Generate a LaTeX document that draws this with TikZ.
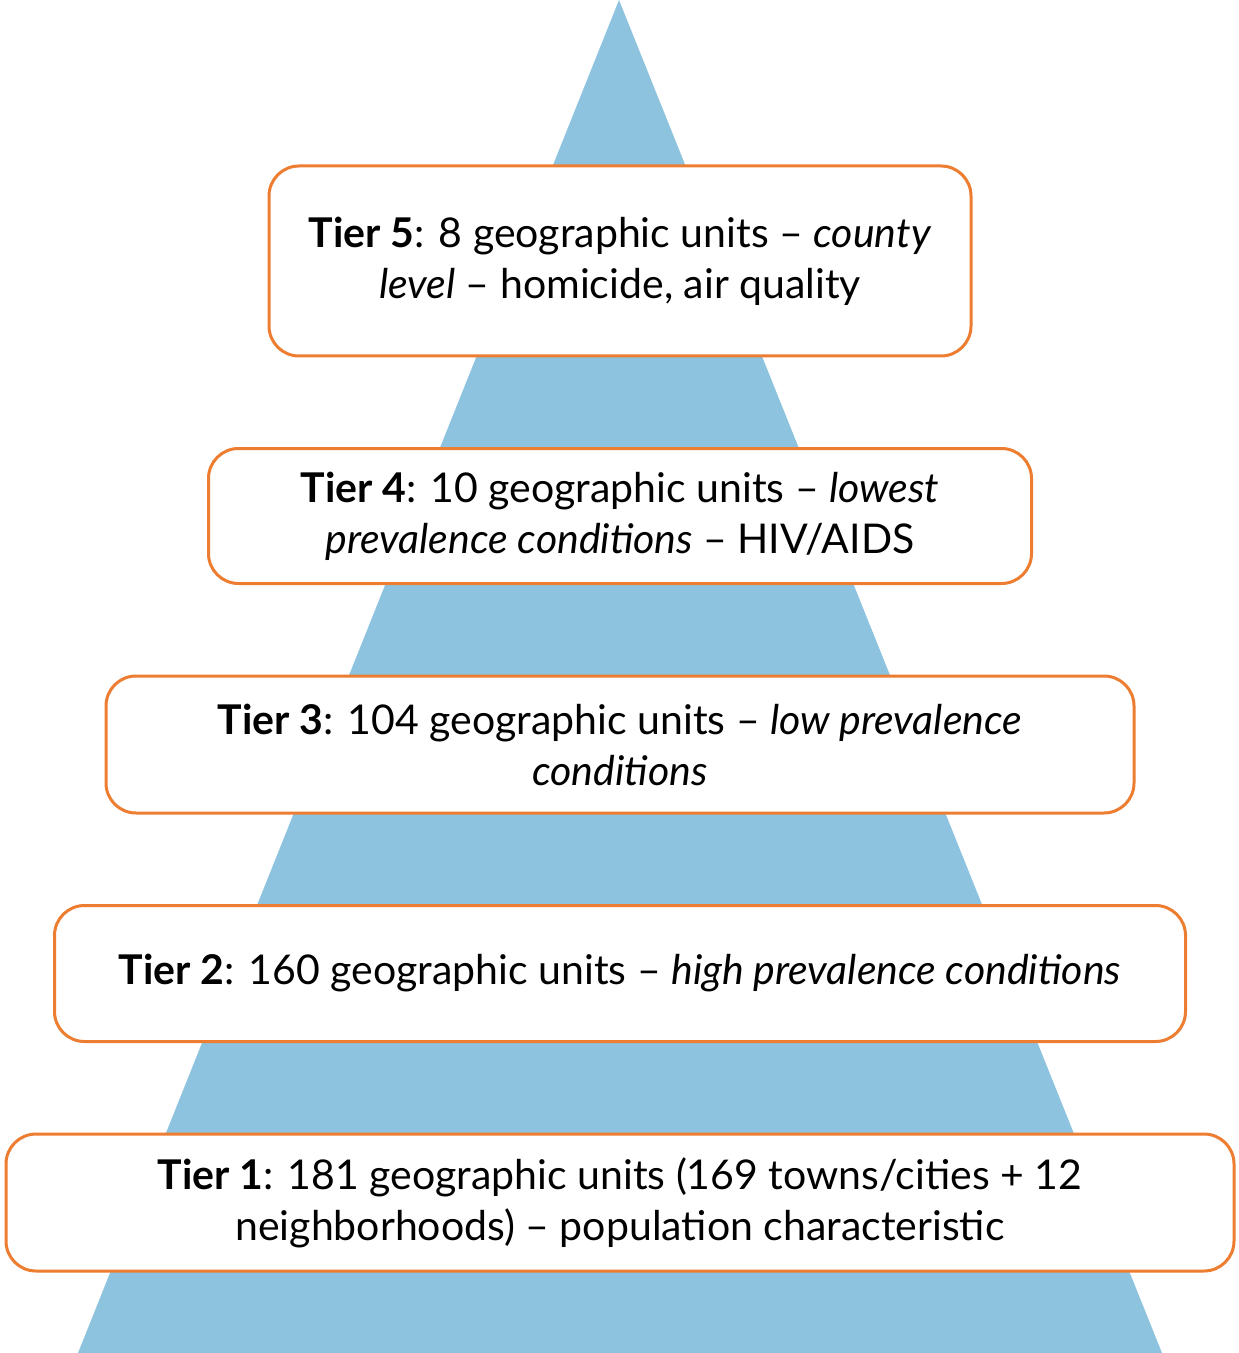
\documentclass[tikz,border=0pt]{standalone}
\usepackage{fontspec}
\setmainfont{Lato}
\usetikzlibrary{positioning}
\definecolor{pyrblue}{HTML}{8EC3DF}
\definecolor{tierorange}{HTML}{ED7D31}
\tikzset{node distance=44.75pt, tier/.style={draw=tierorange, line width=1.5pt, rounded corners=15pt, fill=white, align=center, font=\fontsize{20.5}{25.5}\selectfont}}

\begin{document}
\begin{tikzpicture}[x=0.5pt,y=-0.5pt]
	\useasboundingbox (0,0) rectangle (1238,1353);
	\fill[pyrblue] (619,0) -- (1162,1353) -- (78,1353) -- cycle;

	\node[tier, minimum width=351pt, minimum height=95pt] (T5) at (620,261) {\textbf{Tier 5}: 8 geographic units -- \textit{county}\\ \textit{level} -- homicide,\ air quality};
	\node[tier, minimum width=411.5pt, minimum height=67.5pt] (T4) [below=of T5] {\textbf{Tier 4}: 10 geographic units -- \textit{lowest}\\ \textit{prevalence conditions} -- HIV/AIDS};
	\node[tier, minimum width=514pt, minimum height=68.5pt] (T3) [below=of T4] {\textbf{Tier 3}: 104 geographic units -- \textit{low prevalence}\\ \textit{conditions}};
	\node[tier, minimum width=565.5pt, minimum height=68pt] (T2) [below=of T3] {\textbf{Tier 2}: 160 geographic units -- \textit{high prevalence conditions}};
	\node[tier, minimum width=614pt, minimum height=68.5pt] (T1) [below=of T2] {\textbf{Tier 1}: 181 geographic units (169 towns/cities + 12\\ neighborhoods) -- population characteristic};
\end{tikzpicture}
\end{document}
